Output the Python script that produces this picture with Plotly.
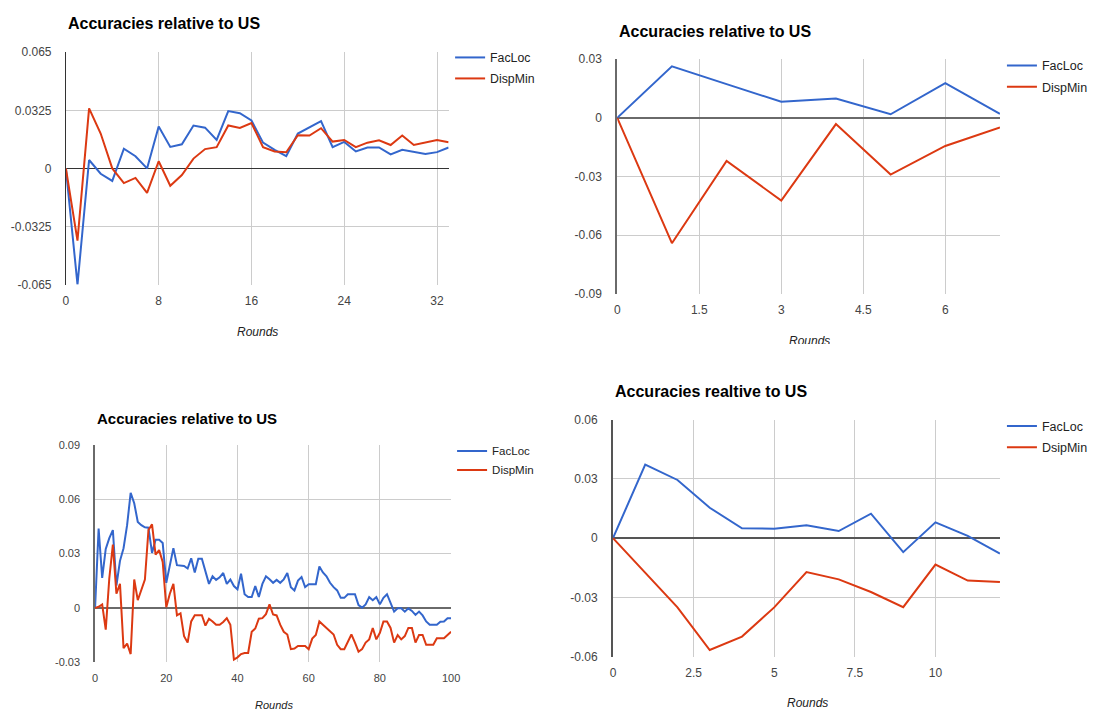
import plotly.graph_objects as go

# page body has an 8px margin; figure sized so the page fits the 1103x722 window exactly
PAGE_W, PAGE_H = 1103, 722
OFF = 8
W, H = PAGE_W - 2 * OFF, PAGE_H - 2 * OFF

# ---------------- data ----------------
p1_x = list(range(34))
p1_facloc = [0, -0.065, 0.0047, -0.003, -0.007, 0.011, 0.0068, 0, 0.0234, 0.012,
             0.0135, 0.024, 0.0228, 0.0159, 0.0321, 0.0309, 0.0268, 0.0144, 0.0104, 0.0068,
             0.0195, 0.0232, 0.0265, 0.0119, 0.0148, 0.0095, 0.0117, 0.0117, 0.0078, 0.0104,
             0.0093, 0.008, 0.0091, 0.0117]
p1_dispmin = [0, -0.0404, 0.0336, 0.0195, 0, -0.0082, -0.0053, -0.0137, 0.004, -0.0097,
              -0.0037, 0.0055, 0.0108, 0.0119, 0.024, 0.0226, 0.0254, 0.0119, 0.0095, 0.009,
              0.0186, 0.0184, 0.0225, 0.015, 0.0159, 0.0119, 0.0144, 0.0157, 0.0131, 0.0184,
              0.0131, 0.0146, 0.0159, 0.0146]
p1_yticks = [-0.065, -0.0325, 0, 0.0325, 0.065]
p1_yticktext = ["-0.065", "-0.0325", "0", "0.0325", "0.065"]
p1_xticks = [0, 8, 16, 24, 32]

p2_x = list(range(8))
p2_facloc = [0, 0.0263, 0.0172, 0.0082, 0.0099, 0.0018, 0.0177, 0.002]
p2_dispmin = [0, -0.0641, -0.0221, -0.0423, -0.0032, -0.029, -0.0144, -0.0049]
p2_yticks = [-0.09, -0.06, -0.03, 0, 0.03]
p2_yticktext = ["-0.09", "-0.06", "-0.03", "0", "0.03"]
p2_xticks = [0, 1.5, 3, 4.5, 6]

p3_x = list(range(101))
p3_facloc = [0, 0.0438, 0.0166, 0.0326, 0.0385, 0.043, 0.0124, 0.026, 0.033, 0.0457,
             0.0635, 0.0578, 0.0475, 0.0457, 0.0445, 0.0443, 0.0304, 0.0376, 0.0376, 0.0358,
             0.0139, 0.0232, 0.033, 0.0236, 0.0236, 0.0232, 0.0218, 0.0274, 0.0196, 0.0272,
             0.0272, 0.0196, 0.0133, 0.0175, 0.0155, 0.0169, 0.0193, 0.0133, 0.0157, 0.0121,
             0.0103, 0.0189, 0.0076, 0.0061, 0.0061, 0.0121, 0.0061, 0.0133, 0.0175, 0.0158,
             0.0139, 0.0155, 0.0139, 0.0158, 0.0193, 0.0115, 0.0097, 0.0151, 0.0171, 0.0115,
             0.0131, 0.0131, 0.0131, 0.0229, 0.0196, 0.0175, 0.0139, 0.0115, 0.0097, 0.0056,
             0.0056, 0.0076, 0.0076, 0.0076, 0.0016, 0.0002, 0.002, 0.006, 0.0043, 0.006,
             0.002, 0.0056, 0.0076, 0.0025, -0.002, -0.0002, -0.0002, -0.002, -0.0002, -0.0016,
             -0.0038, -0.002, -0.0041, -0.0074, -0.0092, -0.0092, -0.0092, -0.0076, -0.0074, -0.0056,
             -0.0056]
p3_dispmin = [0, 0.0007, 0.002, -0.0119, 0.0164, 0.035, 0.0079, 0.0133, -0.0222, -0.0196,
              -0.0254, 0.0157, 0.0043, 0.0106, 0.0157, 0.043, 0.0461, 0.0294, 0.0319, 0.0254,
              0.0004, 0.0079, 0.0133, -0.0041, -0.0029, -0.0155, -0.0191, -0.0074, -0.004, -0.004,
              -0.004, -0.0097, -0.0059, -0.0074, -0.0092, -0.0092, -0.0077, -0.0056, -0.0092, -0.0284,
              -0.0272, -0.0254, -0.0248, -0.0248, -0.0131, -0.0113, -0.0059, -0.0056, -0.0034, 0.002,
              -0.0036, -0.0041, -0.0092, -0.0131, -0.0146, -0.0227, -0.0223, -0.0209, -0.0209, -0.0209,
              -0.0227, -0.0169, -0.0149, -0.0074, -0.0092, -0.011, -0.0128, -0.0146, -0.0203, -0.0227,
              -0.0227, -0.0185, -0.0146, -0.0191, -0.0241, -0.0227, -0.0191, -0.0173, -0.011, -0.0173,
              -0.0137, -0.0074, -0.0074, -0.011, -0.0191, -0.0149, -0.0173, -0.0155, -0.011, -0.011,
              -0.0191, -0.0149, -0.0149, -0.0203, -0.0203, -0.0203, -0.0167, -0.0167, -0.0167, -0.0149,
              -0.0131]
p3_yticks = [-0.03, 0, 0.03, 0.06, 0.09]
p3_yticktext = ["-0.03", "0", "0.03", "0.06", "0.09"]
p3_xticks = [0, 20, 40, 60, 80, 100]

p4_x = list(range(13))
p4_facloc = [0, 0.0373, 0.0295, 0.0154, 0.005, 0.0048, 0.0066, 0.0036, 0.0124, -0.0071,
             0.008, 0.0012, -0.0078]
p4_dsipmin = [0, -0.0178, -0.0351, -0.0567, -0.0499, -0.0351, -0.0172, -0.0209, -0.0273, -0.035,
              -0.0134, -0.0215, -0.0222]
p4_yticks = [-0.06, -0.03, 0, 0.03, 0.06]
p4_yticktext = ["-0.06", "-0.03", "0", "0.03", "0.06"]
p4_xticks = [0, 2.5, 5, 7.5, 10]

titles = ["Accuracies relative to US", "Accuracies relative to US",
          "Accuracies relative to US", "Accuracies realtive to US"]
series_names = [["FacLoc", "DispMin"], ["FacLoc", "DispMin"],
                ["FacLoc", "DispMin"], ["FacLoc", "DsipMin"]]
x_title = "Rounds"

BLUE = "#3366cc"
RED = "#dc3912"
FONT = "Liberation Sans, Arial, sans-serif"

# helpers converting page pixels (window coordinates) to paper fractions
def px_x(v):
    return (v - OFF) / W

def px_y(v):
    return 1 - (v - OFF) / H

# panel geometry in window pixels
panels = [
    dict(l=63.5, r=450.5, t=46, bot=283, xr=[0, 33], yr=[-0.065, 0.065],
         xt=p1_xticks, yt=p1_yticks, ytt=p1_yticktext, fs=12, tfs=16, lfs=12.3, gap=2,
         title_xy=(63.5, 17), leg=(452, 36.5), rounds=(257, 331), base="#333333", bw=1,
         xs=p1_x, s1=p1_facloc, s2=p1_dispmin),
    dict(l=621, r=1008, t=53, bot=292.5, xr=[0, 7], yr=[-0.09, 0.03],
         xt=p2_xticks, yt=p2_yticks, ytt=p2_yticktext, fs=12, tfs=16, lfs=12.5, gap=2,
         title_xy=(621, 25), leg=(1010, 44.5), rounds=(815, 338), base="#6a6a6a", bw=2,
         xs=p2_x, s1=p2_facloc, s2=p2_dispmin),
    dict(l=93, r=453, t=446.5, bot=668.5, xr=[0, 100], yr=[-0.03, 0.09],
         xt=p3_xticks, yt=p3_yticks, ytt=p3_yticktext, fs=11, tfs=15, lfs=11.5, gap=0,
         title_xy=(92.5, 420), leg=(454, 438), rounds=(274, 712), base="#6a6a6a", bw=1.5,
         xs=p3_x, s1=p3_facloc, s2=p3_dispmin),
    dict(l=616.7, r=1008, t=421, bot=662.5, xr=[0, 12], yr=[-0.06, 0.06],
         xt=p4_xticks, yt=p4_yticks, ytt=p4_yticktext, fs=12, tfs=16, lfs=12.5, gap=2,
         title_xy=(616.7, 392.5), leg=(1010, 412.5), rounds=(813, 710), base="#555555", bw=2,
         xs=p4_x, s1=p4_facloc, s2=p4_dsipmin),
]

fig = go.Figure()
layout = dict(width=W, height=H, margin=dict(l=0, r=0, t=0, b=0),
              paper_bgcolor="white", plot_bgcolor="white",
              font=dict(family=FONT, color="#222222"), showlegend=True)
annotations = []

for i, p in enumerate(panels):
    n = "" if i == 0 else str(i + 1)
    xa, ya = "x" + n, "y" + n
    leg = "legend" + n
    fig.add_trace(go.Scatter(x=p["xs"], y=p["s1"], mode="lines", name=series_names[i][0],
                             line=dict(color=BLUE, width=2), xaxis=xa, yaxis=ya, legend=leg,
                             legendgroup=f"p{i}a", hoverinfo="skip"))
    fig.add_trace(go.Scatter(x=p["xs"], y=p["s2"], mode="lines", name=series_names[i][1],
                             line=dict(color=RED, width=2), xaxis=xa, yaxis=ya, legend=leg,
                             legendgroup=f"p{i}b", hoverinfo="skip"))
    layout["xaxis" + n] = dict(
        domain=[px_x(p["l"]), px_x(p["r"])], anchor=ya, range=p["xr"],
        tickvals=p["xt"], ticktext=[f"{v:g}" for v in p["xt"]],
        showgrid=True, gridcolor="#cccccc", gridwidth=1,
        zeroline=False, showline=False,
        ticks="outside", ticklen=5, tickcolor="rgba(0,0,0,0)",
        tickfont=dict(size=p["fs"], color="#444444", family=FONT), fixedrange=True)
    layout["yaxis" + n] = dict(
        domain=[px_y(p["bot"]), px_y(p["t"])], anchor=xa, range=p["yr"],
        tickvals=p["yt"], ticktext=p["ytt"],
        showgrid=True, gridcolor="#cccccc", gridwidth=1,
        zeroline=True, zerolinecolor=p["base"], zerolinewidth=p["bw"],
        showline=True, linecolor=p["base"], linewidth=p["bw"],
        ticks="outside", ticklen=11, tickcolor="rgba(0,0,0,0)",
        tickfont=dict(size=p["fs"], color="#444444", family=FONT), fixedrange=True)
    layout[leg] = dict(x=px_x(p["leg"][0]), y=px_y(p["leg"][1]), xanchor="left", yanchor="top",
                       bgcolor="rgba(0,0,0,0)", font=dict(size=p["lfs"], color="#222222", family=FONT),
                       itemwidth=30, tracegroupgap=p["gap"])
    annotations.append(dict(text="<b>" + titles[i] + "</b>", xref="paper", yref="paper",
                            x=px_x(p["title_xy"][0]), y=px_y(p["title_xy"][1]),
                            xanchor="left", yanchor="middle", showarrow=False,
                            font=dict(size=p["tfs"], color="#000000", family=FONT)))
    rt = dict(text="<i>" + x_title + "</i>", xref="paper", yref="paper",
              x=px_x(p["rounds"][0]), y=px_y(p["rounds"][1]),
              xanchor="center", yanchor="middle", showarrow=False,
              font=dict(size=p["fs"], color="#222222", family=FONT))
    if i == 1:
        rt.update(y=px_y(331), yanchor="top", height=10, valign="top")
    annotations.append(rt)

layout["annotations"] = annotations
fig.update_layout(**layout)
fig.write_html("out.html")
